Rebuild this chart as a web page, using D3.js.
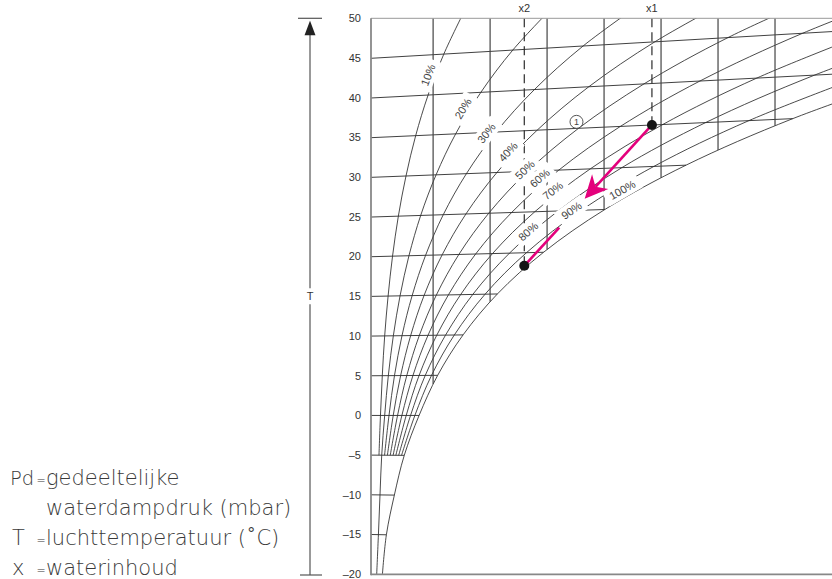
<!DOCTYPE html>
<html>
<head>
<meta charset="utf-8">
<script src="https://cdn.jsdelivr.net/npm/d3@7"></script>
<style>
body { margin: 0; background: #fff; }
svg { display: block; font-family: "Liberation Sans", Arial, sans-serif; }
</style>
</head>
<body>
<div id="chart"></div>
<script>
// isotherms (°C) and tick labels of the T axis
var temps = [-20, -15, -10, -5, 0, 5, 10, 15, 20, 25, 30, 35, 40, 45, 50];
// vertical lines of constant water content x (g/kg)
var xGrid = [5, 10, 15, 20, 25, 30, 35];

// water content (g/kg) of each relative humidity curve at the temps above, null = not drawn
var rhNames = ["10%", "20%", "30%", "40%", "50%", "60%", "70%", "80%", "90%", "100%"];
var rh10  = [null, null, null, 0.25, 0.38, 0.54, 0.75, 1.05, 1.44, 1.95, 2.62, 3.47, 4.56, 5.94, 7.67];
var rh20  = [0.05, 0.20, 0.34, 0.49, 0.75, 1.07, 1.51, 2.10, 2.88, 3.91, 5.26, 6.98, 9.19, 11.99, 15.52];
var rh30  = [null, null, null, 0.74, 1.13, 1.61, 2.27, 3.16, 4.34, 5.89, 7.92, 10.53, 13.89, 18.16, 23.57];
var rh40  = [null, null, null, 0.99, 1.50, 2.15, 3.03, 4.21, 5.79, 7.88, 10.60, 14.13, 18.66, 24.45, 31.83];
var rh50  = [null, null, null, 1.24, 1.88, 2.69, 3.79, 5.28, 7.26, 9.88, 13.30, 17.76, 23.50, 30.87, 40.31];
var rh60  = [null, null, null, 1.49, 2.26, 3.23, 4.55, 6.34, 8.73, 11.89, 16.03, 21.43, 28.41, 37.42, 49.0];
var rh70  = [null, null, null, 1.73, 2.64, 3.77, 5.32, 7.41, 10.21, 13.92, 18.79, 25.15, 33.40, 44.09, null];
var rh80  = [null, null, null, 1.98, 3.02, 4.31, 6.09, 8.48, 11.70, 15.96, 21.56, 28.91, 38.47, 50.9, null];
var rh90  = [null, null, null, 2.23, 3.40, 4.86, 6.86, 9.56, 13.19, 18.01, 24.37, 32.71, 43.61, null, null];
var rh100 = [0.55, 0.90, 1.60, 2.47, 3.77, 5.40, 7.63, 10.64, 14.69, 20.07, 27.19, 36.56, 48.84, null, null];
var rhSeries = [rh10, rh20, rh30, rh40, rh50, rh60, rh70, rh80, rh90, rh100];

// where the curve labels sit (x in g/kg, T in °C)
var labelX = [4.56, 7.63, 9.69, 11.58, 13.05, 14.36, 15.50, 13.34, 17.14, 21.60];
var labelT = [42.5, 38.1, 34.9, 32.5, 30.2, 29.1, 27.5, 22.6, 25.0, 27.3];

// the two states: x1 (35 °C) and x2 (on saturation)
var pointNames = ["x1", "x2"];
var pointX = [24.2, 13.0];
var pointT = [35.0, 18.4];
// ends of the magenta lines
var arrowX = [18.3, 16.07];
var arrowT = [26.4, 22.97];
// circled marker "1"
var markX = 17.58, markT = 35.8;

var legendSym = ["Pd", "", "T", "x"];
var legendTxt = ["gedeeltelijke", "waterdampdruk (mbar)", "luchttemperatuur (\u02DAC)", "waterinhoud"];

var W = 832, H = 579;
var svg = d3.select("#chart").append("svg").attr("width", W).attr("height", H);

var x = d3.scaleLinear().domain([-0.45, 40]).range([371, 832]);
var y = d3.scaleLinear().domain([-20, 50]).range([574.3, 18.3]);
var skew = 0.00185;   // Mollier skew: isotherms rise with x
function P(xv, T) { return [x(xv), y(T * (1 + skew * xv))]; }

var ink = "#2b2b2b";
var x0 = x.domain()[0], xMax = x.domain()[1];

svg.append("clipPath").attr("id", "plot")
  .append("rect").attr("x", x(x0)).attr("y", y(50))
  .attr("width", x(xMax) - x(x0)).attr("height", y(-20) - y(50));

var plot = svg.append("g").attr("clip-path", "url(#plot)");

// isotherms, from the T axis to the saturation curve
temps.forEach(function(T, i) {
  if (T === -20 || T === 50) return;
  var xe = rh100[i] == null ? xMax : Math.min(rh100[i], xMax);
  var a = P(x0, T), b = P(xe, T);
  plot.append("line").attr("x1", a[0]).attr("y1", a[1]).attr("x2", b[0]).attr("y2", b[1])
    .attr("stroke", ink).attr("stroke-width", 0.9);
});

// relative humidity curves
var line = d3.line().defined(function(d) { return d != null; }).curve(d3.curveCatmullRom);
var curves = rhSeries.map(function(vals) {
  var pts = temps.map(function(T, i) { return vals[i] == null ? null : P(vals[i], T); });
  return plot.append("path").attr("d", line(pts))
    .attr("fill", "none").attr("stroke", ink).attr("stroke-width", 0.85);
});
var satNode = curves[curves.length - 1].node();

function yAtX(node, X) {
  var L = node.getTotalLength(), prev = node.getPointAtLength(0);
  for (var s = 0.5; s <= L; s += 0.5) {
    var p = node.getPointAtLength(s);
    if ((prev.x - X) * (p.x - X) <= 0) {
      var t = (X - prev.x) / ((p.x - prev.x) || 1);
      return prev.y + t * (p.y - prev.y);
    }
    prev = p;
  }
  return y(-20);
}

// vertical x grid, down to saturation
xGrid.forEach(function(v) {
  plot.append("line").attr("x1", x(v)).attr("x2", x(v))
    .attr("y1", y(50)).attr("y2", yAtX(satNode, x(v)))
    .attr("stroke", "#444").attr("stroke-width", 1.2);
});

// dashed x1 / x2
pointX.forEach(function(v, i) {
  var p = P(v, pointT[i]);
  plot.append("line").attr("x1", p[0]).attr("x2", p[0]).attr("y1", y(50)).attr("y2", p[1])
    .attr("stroke", ink).attr("stroke-width", 1.2).attr("stroke-dasharray", "9,5");
  svg.append("text").attr("x", p[0]).attr("y", 11.5).attr("text-anchor", "middle")
    .attr("font-size", 11).attr("fill", "#333").text(pointNames[i]);
});

// frame
svg.append("line").attr("x1", x(x0)).attr("x2", W).attr("y1", y(50)).attr("y2", y(50))
  .attr("stroke", "#999").attr("stroke-width", 1);
svg.append("line").attr("x1", x(x0)).attr("x2", W).attr("y1", y(-20)).attr("y2", y(-20))
  .attr("stroke", "#888").attr("stroke-width", 1.8);
svg.append("line").attr("x1", x(x0)).attr("x2", x(x0)).attr("y1", y(50)).attr("y2", y(-20) + 0.9)
  .attr("stroke", "#888").attr("stroke-width", 1.8);

// T tick labels
svg.append("g").selectAll("text").data(temps).enter().append("text")
  .attr("x", 361).attr("y", function(d) { return y(d); }).attr("dy", "0.35em")
  .attr("text-anchor", "end").attr("font-size", 11).attr("fill", "#333")
  .text(function(d) { return d < 0 ? "\u2013" + (-d) : d; });

// curve labels, with a white gap under each
function nearest(node, px, py) {
  var L = node.getTotalLength(), best = 0, bd = Infinity;
  for (var s = 0; s <= L; s += 1) {
    var p = node.getPointAtLength(s), d = (p.x - px) * (p.x - px) + (p.y - py) * (p.y - py);
    if (d < bd) { bd = d; best = s; }
  }
  var a = node.getPointAtLength(Math.max(0, best - 5)), b = node.getPointAtLength(Math.min(L, best + 5));
  return Math.atan2(b.y - a.y, b.x - a.x) * 180 / Math.PI;
}
var labels = svg.append("g");
rhNames.forEach(function(name, i) {
  var p = P(labelX[i], labelT[i]);
  var ang = nearest(curves[i].node(), p[0], p[1]);
  var g = labels.append("g").attr("transform", "translate(" + p[0] + "," + p[1] + ") rotate(" + ang + ")");
  var t = g.append("text").attr("text-anchor", "middle").attr("dy", "0.35em")
    .attr("font-size", 11).attr("fill", "#444").text(name);
  var w = t.node().getComputedTextLength() + 10;
  g.insert("rect", "text").attr("x", -w / 2).attr("y", -8).attr("width", w).attr("height", 16).attr("fill", "#fff");
});

// circled 1
var m = P(markX, markT);
svg.append("circle").attr("cx", m[0]).attr("cy", m[1]).attr("r", 6.5)
  .attr("fill", "#fff").attr("stroke", "#444").attr("stroke-width", 0.9);
svg.append("text").attr("x", m[0]).attr("y", m[1]).attr("dy", "0.35em").attr("text-anchor", "middle")
  .attr("font-size", 9).attr("fill", "#444").text("1");

// magenta process lines
var magenta = "#e4007c";
pointX.forEach(function(v, i) {
  var a = P(v, pointT[i]), b = P(arrowX[i], arrowT[i]);
  if (i === 0) {
    var ang = Math.atan2(b[1] - a[1], b[0] - a[0]), c = Math.cos(ang), s = Math.sin(ang);
    var hl = 23, hw = 11, notch = 16;
    svg.append("line").attr("x1", a[0]).attr("y1", a[1])
      .attr("x2", b[0] - notch * c).attr("y2", b[1] - notch * s)
      .attr("stroke", magenta).attr("stroke-width", 2.6);
    var head = [
      [b[0], b[1]],
      [b[0] - hl * c - hw * s, b[1] - hl * s + hw * c],
      [b[0] - notch * c, b[1] - notch * s],
      [b[0] - hl * c + hw * s, b[1] - hl * s - hw * c]
    ];
    svg.append("polygon").attr("points", head.join(" ")).attr("fill", magenta);
  } else {
    svg.append("line").attr("x1", a[0]).attr("y1", a[1]).attr("x2", b[0]).attr("y2", b[1])
      .attr("stroke", magenta).attr("stroke-width", 2.6);
  }
});

// state points
svg.selectAll("circle.pt").data(pointX).enter().append("circle").attr("class", "pt")
  .attr("cx", function(d, i) { return P(d, pointT[i])[0]; })
  .attr("cy", function(d, i) { return P(d, pointT[i])[1]; })
  .attr("r", 5).attr("fill", "#151515");

// T arrow on the left
var ax = 310, mid = (y(50) + y(-20)) / 2;
var side = svg.append("g").attr("stroke", "#555").attr("stroke-width", 1.2);
side.append("line").attr("x1", 298).attr("x2", 322).attr("y1", y(50)).attr("y2", y(50));
side.append("line").attr("x1", 300).attr("x2", 322).attr("y1", y(-20) + 0.7).attr("y2", y(-20) + 0.7);
side.append("line").attr("x1", ax).attr("x2", ax).attr("y1", y(50) + 12).attr("y2", mid - 8);
side.append("line").attr("x1", ax).attr("x2", ax).attr("y1", mid + 8).attr("y2", y(-20) + 0.7);
svg.append("polygon").attr("fill", "#222")
  .attr("points", [[ax, y(50) + 2.5], [ax - 5.5, y(50) + 17], [ax + 5.5, y(50) + 17]].join(" "));
svg.append("text").attr("x", ax).attr("y", mid).attr("dy", "0.35em").attr("text-anchor", "middle")
  .attr("font-size", 11).attr("fill", "#333").text("T");

// legend
var leg = svg.append("g").attr("font-family", "'DejaVu Sans', sans-serif")
  .attr("font-weight", 200).attr("font-size", 21).attr("fill", "#3a3a3a");
legendTxt.forEach(function(t, i) {
  var by = 485 + i * 30;
  if (legendSym[i]) {
    var two = legendSym[i].length > 1;
    leg.append("text").attr("x", two ? 10 : 12).attr("y", by)
      .attr("font-size", two ? 19.5 : 21).text(legendSym[i]);
    leg.append("text").attr("x", 36.5).attr("y", by - 1).attr("font-size", 11).text("=");
  }
  leg.append("text").attr("x", 46).attr("y", by).text(t);
});
</script>
</body>
</html>
